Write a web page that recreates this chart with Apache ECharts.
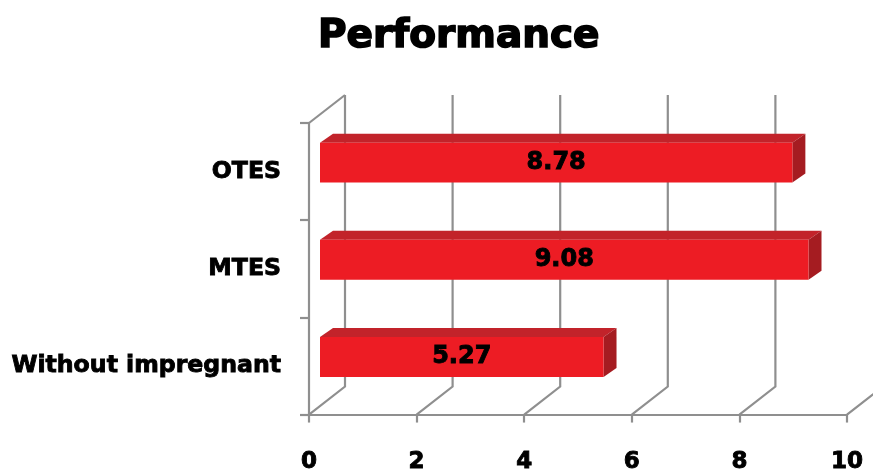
<!DOCTYPE html>
<html>
<head>
<meta charset="utf-8">
<script src="https://cdn.jsdelivr.net/npm/echarts@6/dist/echarts.min.js"></script>
<style>html,body{margin:0;padding:0;background:#fff;}#c{width:873px;height:474px;}</style>
</head>
<body>
<div id="c"></div>
<script>
const categories = ["Without impregnant", "MTES", "OTES"];
const values = [5.27, 9.08, 8.78];
const xTicks = [0, 2, 4, 6, 8, 10];

const FONT = '"DejaVu Sans", sans-serif';
const GRAY = '#8f8f8f';
const WALL_DX = 36, WALL_DY = 28;   // depth of 3D walls
const BAR_OX = 11, BAR_OY = -9;     // bar plane offset
const BAR_DX = 13, BAR_DY = 9;      // bar depth

const chart = echarts.init(document.getElementById('c'));
chart.setOption({
  animation: false,
  backgroundColor: '#fff',
  title: {
    text: 'Performance',
    left: 313, top: 12,
    textStyle: { fontFamily: FONT, fontWeight: 'bold', fontSize: 39, color: '#000',
                 textBorderColor: '#000', textBorderWidth: 1.6 }
  },
  grid: { left: 309, right: 26, top: 123, bottom: 58, containLabel: false },
  xAxis: {
    type: 'value', min: 0, max: 10, interval: 2,
    axisLine: { show: true, lineStyle: { color: GRAY, width: 2.2 } },
    axisTick: { show: true, length: 8, lineStyle: { color: GRAY, width: 2.2 } },
    splitLine: { show: false },
    axisLabel: { margin: 36, fontFamily: FONT, fontWeight: 'bold', fontSize: 23, color: '#000',
                 textBorderColor: '#000', textBorderWidth: 0.9 }
  },
  yAxis: {
    type: 'category', data: categories,
    axisLine: { show: true, lineStyle: { color: GRAY, width: 2.2 } },
    axisTick: { show: true, length: 9, lineStyle: { color: GRAY, width: 2.2 } },
    axisLabel: { margin: 28, fontFamily: FONT, fontWeight: 'bold', fontSize: 23.6, color: '#000',
                 textBorderColor: '#000', textBorderWidth: 0.9 }
  },
  series: [
    {
      type: 'custom',
      name: 'walls',
      silent: true,
      z: 1,
      clip: false,
      data: xTicks.map(v => [v]),
      renderItem: function (params, api) {
        const cs = params.coordSys;
        const bottom = cs.y + cs.height;
        const top = cs.y;
        const p = api.coord([api.value(0), 0]);
        const x = p[0];
        const children = [{
          type: 'polyline',
          shape: { points: [[x, bottom], [x + WALL_DX, bottom - WALL_DY], [x + WALL_DX, top - WALL_DY]] },
          style: { stroke: GRAY, lineWidth: 2.2, fill: null }
        }];
        if (api.value(0) === 0) {
          children.push({
            type: 'line',
            shape: { x1: x, y1: top, x2: x + WALL_DX, y2: top - WALL_DY },
            style: { stroke: GRAY, lineWidth: 2.2 }
          });
        }
        return { type: 'group', children: children };
      }
    },
    {
      type: 'custom',
      name: 'Performance',
      z: 5,
      clip: false,
      data: values.map((v, i) => [v, i]),
      renderItem: function (params, api) {
        const v = api.value(0), ci = api.value(1);
        const end = api.coord([v, ci]);
        const start = api.coord([0, ci]);
        const bandH = api.size([0, 1])[1];
        const h = bandH * 0.41;
        const x0 = start[0] + BAR_OX, x1 = end[0] + BAR_OX;
        const yT = end[1] + BAR_OY - h / 2, yB = end[1] + BAR_OY + h / 2;
        return {
          type: 'group',
          children: [
            { type: 'polygon', shape: { points: [[x0, yT], [x1, yT], [x1 + BAR_DX, yT - BAR_DY], [x0 + BAR_DX, yT - BAR_DY]] },
              style: { fill: '#C2232A' } },
            { type: 'polygon', shape: { points: [[x1, yT], [x1 + BAR_DX, yT - BAR_DY], [x1 + BAR_DX, yB - BAR_DY], [x1, yB]] },
              style: { fill: '#A51C21' } },
            { type: 'rect', shape: { x: x0, y: yT, width: x1 - x0, height: h },
              style: { fill: '#ED1C24' } },
            { type: 'text', x: (x0 + x1) / 2, y: (yT + yB) / 2,
              style: { text: v.toFixed(2), fontFamily: FONT, fontWeight: 'bold', fontSize: 24, fill: '#000',
                       stroke: '#000', lineWidth: 0.9,
                       align: 'center', verticalAlign: 'middle' } }
          ]
        };
      }
    }
  ]
});
</script>
</body>
</html>
